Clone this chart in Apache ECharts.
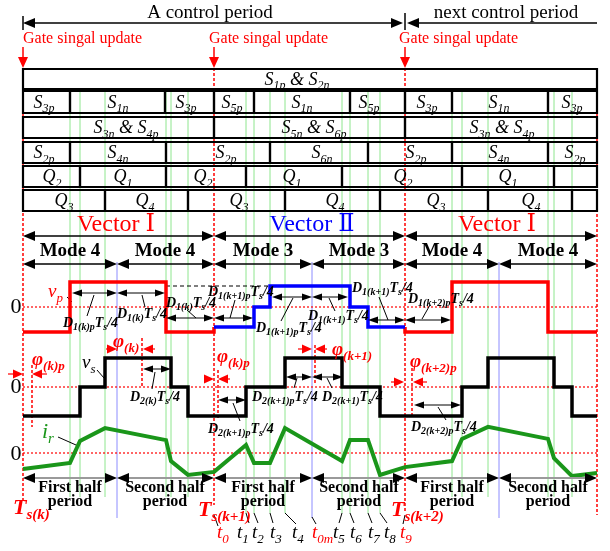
<!DOCTYPE html>
<html>
<head>
<meta charset="utf-8">
<title>Control period timing</title>
<script src="https://cdn.jsdelivr.net/npm/echarts@6/dist/echarts.min.js"></script>
<style>
html,body{margin:0;padding:0;background:#fff;}
#chart{width:610px;height:551px;}
</style>
</head>
<body>
<div id="chart"></div>
<script>
const W = 610, H = 551;
const SERIF = "'Liberation Serif','DejaVu Serif',serif";

// ---------- time instants (diagram time units) ----------
const periodEdges = [23, 214, 405, 597];          // Ts(k), Ts(k+1), Ts(k+2), end
const halfMarks = [117, 312, 499];                // middle of each control period
const switchInstants = [70, 80, 105, 166, 171, 188, 246, 254, 270, 285, 342, 350, 368, 380, 452, 462, 488, 548, 554, 572];
const labelledInstants = [246, 254, 270, 285, 342, 350, 368, 380];

// ---------- gate signal rows: cell edges and names ----------
const row1Edges = [23, 597];
const row1Names = ['S_{1p} & S_{2n}'];
const row1NameAt = [297];
const row2Edges = [23, 70, 165, 214, 254, 350, 405, 452, 548, 597];
const row2Names = ['S_{3p}', 'S_{1n}', 'S_{3p}', 'S_{5p}', 'S_{1n}', 'S_{5p}', 'S_{3p}', 'S_{1n}', 'S_{3p}'];
const row2NameAt = [44, 118, 186, 232, 302, 369, 427, 499, 572];
const row3Edges = [23, 214, 405, 597];
const row3Names = ['S_{3n} & S_{4p}', 'S_{5n} & S_{6p}', 'S_{3n} & S_{4p}'];
const row3NameAt = [126, 314, 502];
const row4Edges = [23, 70, 166, 270, 368, 452, 548, 597];
const row4Names = ['S_{2p}', 'S_{4n}', 'S_{2p}', 'S_{6n}', 'S_{2p}', 'S_{4n}', 'S_{2p}'];
const row4NameAt = [44, 118, 226, 322, 416, 499, 575];
const row5Edges = [23, 80, 166, 246, 342, 462, 554, 597];
const row5Names = ['Q_{2}', 'Q_{1}', 'Q_{2}', 'Q_{1}', 'Q_{2}', 'Q_{1}'];
const row5NameAt = [52, 123, 203, 292, 403, 508];
const row6Edges = [23, 105, 188, 285, 380, 488, 572, 597];
const row6Names = ['Q_{3}', 'Q_{4}', 'Q_{3}', 'Q_{4}', 'Q_{3}', 'Q_{4}'];
const row6NameAt = [64, 145, 239, 335, 436, 531];

// ---------- waveforms: [time, level] ----------
const vpVectorA = [[23, -1], [70, -1], [70, 1], [166, 1], [166, -1], [214, -1], [214, -0.8]];
const vpVectorB = [[214, -0.8], [254, -0.8], [254, 0], [270, 0], [270, 0.84], [350, 0.84], [350, 0], [368, 0], [368, -0.8], [405, -0.8]];
const vpVectorC = [[405, -0.8], [405, -1], [452, -1], [452, 1], [548, 1], [548, -1], [597, -1]];
const vsWave = [[23, -1], [80, -1], [80, 0], [105, 0], [105, 1], [171, 1], [171, 0], [188, 0], [188, -1], [246, -1], [246, 0], [285, 0], [285, 1], [342, 1], [342, 0], [380, 0], [380, -1], [462, -1], [462, 0], [488, 0], [488, 1], [554, 1], [554, 0], [572, 0], [572, -1], [597, -1]];
const irWave = [[23, -0.53], [70, -0.33], [80, 0.4], [105, 0.83], [166, 0.43], [171, -0.27], [188, -0.73], [214, -0.63], [246, 0.27], [254, -0.33], [270, -0.33], [285, 0.83], [342, -0.27], [350, 0.43], [368, 0.43], [380, -0.73], [405, -0.47], [452, -0.27], [462, 0.47], [488, 0.87], [548, 0.47], [554, -0.17], [572, -0.77], [597, -0.67]];

// ---------- text ----------
const modeNames = ['Mode 4', 'Mode 4', 'Mode 3', 'Mode 3', 'Mode 4', 'Mode 4'];
const halfNames = ['First half', 'Second half', 'First half', 'Second half', 'First half', 'Second half'];
const vectorNames = ['Vector Ⅰ', 'Vector Ⅱ', 'Vector Ⅰ'];
const tNames = ['t_{0}', 't_{1}', 't_{2}', 't_{3}', 't_{4}', 't_{0m}', 't_{5}', 't_{6}', 't_{7}', 't_{8}', 't_{9}'];
const tsNames = ['T_{s(k)}', 'T_{s(k+1)}', 'T_{s(k+2)}'];

// ---------- layout ----------
const vpZero = 307, vpUnit = 25;
const vsZero = 387, vsUnit = 29;
const irZero = 453, irUnit = 30;
const rowBands = [[69, 89], [91, 113], [117, 138], [142, 163], [166, 187], [190, 211]];
const halfCenters = [70, 165, 263, 359, 452, 548];

const fonts = {
  title: { size: 19, color: '#000', align: 'center' },
  update: { size: 16, color: '#f00', align: 'left' },
  gate: { size: 18, sub: 12, it: true, color: '#000', align: 'center' },
  vecR: { size: 24, color: '#f00', align: 'center' },
  vecB: { size: 24, color: '#00f', align: 'center' },
  mode: { size: 19, bold: true, color: '#000', align: 'center' },
  half: { size: 16, bold: true, color: '#000', align: 'center' },
  zero: { size: 22, color: '#000', align: 'center' },
  dl: { size: 14, sub: 10, it: true, bold: true, color: '#000', align: 'left' },
  phi: { size: 19, sub: 13, it: true, bold: true, color: '#f00', align: 'left' },
  ts: { size: 22, sub: 15, it: true, bold: true, color: '#f00', align: 'left' },
  t: { size: 19, sub: 13, it: true, color: '#000', align: 'left' },
  tR: { size: 19, sub: 13, it: true, color: '#f00', align: 'left' },
  vp: { size: 19, sub: 13, it: true, color: '#f00', align: 'left' },
  vs: { size: 19, sub: 13, it: true, color: '#000', align: 'left' },
  ir: { size: 22, sub: 15, it: true, color: '#1a961a', align: 'left' }
};

const lineStyles = {
  green: { stroke: '#8ee68e', lineWidth: 1 },
  blue: { stroke: '#8c8cff', lineWidth: 1 },
  redDash: { stroke: '#ff0000', lineWidth: 1.5, lineDash: [3, 2] },
  redDot: { stroke: '#ff0000', lineWidth: 1.2, lineDash: [2, 2] },
  blackDash: { stroke: '#000', lineWidth: 1.2, lineDash: [4, 3] },
  leader: { stroke: '#000', lineWidth: 1 },
  tick: { stroke: '#000', lineWidth: 1.5 }
};
const arrowStyles = {
  big: { stroke: '#000', lineWidth: 1.3, fill: '#000', len: 12, wid: 10 },
  half: { stroke: '#9a9a9a', lineWidth: 2, fill: '#000', len: 12, wid: 10 },
  small: { stroke: '#000', lineWidth: 1, fill: '#000', len: 10, wid: 7 },
  phi: { stroke: '#f00', lineWidth: 1.2, fill: '#f00', len: 10, wid: 9 },
  gate: { stroke: '#f00', lineWidth: 1.5, fill: '#f00', len: 11, wid: 10 }
};

// ---------- build drawing lists ----------
const texts = [];
function addText(t, x, y, f) { texts.push([t, x, y, f]); }

addText('A control period', 210, 13, 'title');
addText('next control period', 506, 13, 'title');
[23, 209, 399].forEach(x => addText('Gate singal update', x, 39, 'update'));

const rowEdges = [row1Edges, row2Edges, row3Edges, row4Edges, row5Edges, row6Edges];
const rowNames = [row1Names, row2Names, row3Names, row4Names, row5Names, row6Names];
const rowNameAt = [row1NameAt, row2NameAt, row3NameAt, row4NameAt, row5NameAt, row6NameAt];
const boxes = [];
rowEdges.forEach((edges, r) => {
  const band = rowBands[r];
  for (let i = 0; i < edges.length - 1; i++) boxes.push([edges[i], band[0], edges[i + 1], band[1]]);
  rowNames[r].forEach((n, i) => addText(n, rowNameAt[r][i], (band[0] + band[1]) / 2 + 1, 'gate'));
});

[116, 312, 497].forEach((x, i) => addText(vectorNames[i], x, 225, i === 1 ? 'vecB' : 'vecR'));
halfCenters.forEach((x, i) => {
  addText(modeNames[i], x, 251, 'mode');
  addText(halfNames[i], x, 488, 'half');
  addText('period', x, 502, 'half');
});
[vpZero, vsZero, irZero + 1].forEach(y => addText('0', 16, y, 'zero'));
addText('v_{p}', 48, 292, 'vp');
addText('v_{s}', 82, 363, 'vs');
addText('i_{r}', 42, 432, 'ir');

[
  ['D_{1(k)p}T_{s}/4', 63, 323], ['D_{1(k)}T_{s}/4', 117, 314], ['D_{1(k)}T_{s}/4', 166, 303],
  ['D_{1(k+1)p}T_{s}/4', 208, 292], ['D_{1(k+1)p}T_{s}/4', 256, 328], ['D_{1(k+1)}T_{s}/4', 308, 316],
  ['D_{1(k+1)}T_{s}/4', 352, 288], ['D_{1(k+2)p}T_{s}/4', 408, 299],
  ['D_{2(k)}T_{s}/4', 130, 397], ['D_{2(k+1)p}T_{s}/4', 208, 429], ['D_{2(k+1)p}T_{s}/4', 252, 397],
  ['D_{2(k+1)}T_{s}/4', 322, 397], ['D_{2(k+2)p}T_{s}/4', 411, 427]
].forEach(d => addText(d[0], d[1], d[2], 'dl'));

[
  ['φ_{(k)p}', 32, 360], ['φ_{(k)}', 113, 342], ['φ_{(k)p}', 217, 357],
  ['φ_{(k+1)}', 332, 350], ['φ_{(k+2)p}', 410, 362]
].forEach(d => addText(d[0], d[1], d[2], 'phi'));

[[13, 508], [198, 510], [391, 510]].forEach((p, i) => addText(tsNames[i], p[0], p[1], 'ts'));
[217, 237, 252, 270, 292, 312, 333, 350, 368, 384, 400].forEach((x, i) =>
  addText(tNames[i], x, 533, (i === 0 || i === 5 || i === 10) ? 'tR' : 't'));

const segments = [];
switchInstants.forEach(t => segments.push([t, 91, t, labelledInstants.includes(t) ? 513 : 497, 'green']));
halfMarks.forEach(t => segments.push([t, 262, t, 518, 'blue']));
[[23, 68, 500], [214, 68, 505], [405, 68, 512], [597, 69, 515]].forEach(s => segments.push([s[0], s[1], s[0], s[2], 'redDash']));
[vpZero, vsZero, irZero].forEach(y => segments.push([periodEdges[0], y, periodEdges[3], y, 'redDot']));
[[32, 365, 427], [142, 338, 388], [218, 370, 420], [315, 345, 385], [412, 368, 415]].forEach(s => segments.push([s[0], s[1], s[0], s[2], 'redDash']));
segments.push([166, 286, 270, 286, 'blackDash']);
segments.push([23, 16, 23, 30, 'tick'], [405, 13, 405, 30, 'tick']);
[
  [67, 297, 72, 302], [97, 370, 104, 378], [58, 437, 76, 445],
  [94, 295, 87, 316], [142, 295, 145, 307], [187, 310, 196, 318], [235, 300, 230, 318], [293, 298, 281, 321],
  [329, 298, 335, 311], [379, 297, 388, 320], [430, 305, 422, 319],
  [155, 372, 152, 389], [233, 403, 240, 421], [297, 378, 294, 388], [327, 378, 332, 388], [438, 407, 446, 420],
  [214, 515, 218, 526], [246, 513, 249, 523], [254, 513, 258, 523], [270, 513, 273, 523], [285, 513, 296, 524],
  [312, 517, 316, 524], [342, 513, 339, 523], [350, 513, 354, 523], [368, 513, 372, 523], [380, 513, 387, 523],
  [405, 515, 403, 524]
].forEach(s => segments.push([s[0], s[1], s[2], s[3], 'leader']));

const arrows = [
  [23, 23, 403, 23, 'big', 'both'], [407, 23, 597, 23, 'big', 'start'],
  [23, 47, 23, 68, 'gate', 'end'], [214, 47, 214, 68, 'gate', 'end'], [405, 47, 405, 68, 'gate', 'end'],
  [23, 236, 214, 236, 'big', 'both'], [214, 236, 405, 236, 'big', 'both'], [405, 236, 597, 236, 'big', 'both']
];
const halfEdges = [23, 117, 214, 312, 405, 499, 597];
for (let i = 0; i < halfEdges.length - 1; i++) {
  arrows.push([halfEdges[i], 264, halfEdges[i + 1], 264, 'big', 'both']);
  arrows.push([halfEdges[i], 478, halfEdges[i + 1], 478, 'half', 'both']);
}
[
  [72, 293, 117, 293], [117, 293, 165, 293], [166, 318, 214, 318], [214, 318, 253, 318],
  [272, 297, 312, 297], [312, 297, 348, 297], [368, 320, 405, 320], [405, 320, 451, 320],
  [143, 369, 171, 369], [218, 400, 246, 400], [286, 377, 312, 377], [312, 377, 343, 377], [414, 405, 461, 405]
].forEach(a => arrows.push([a[0], a[1], a[2], a[3], 'small', 'both']));
[
  [8, 374, 23, 374], [47, 374, 32, 374], [106, 349, 117, 349], [155, 349, 143, 349],
  [205, 379, 214, 379], [230, 379, 218, 379], [298, 349, 312, 349], [327, 349, 315, 349],
  [391, 382, 404, 382], [427, 382, 413, 382]
].forEach(a => arrows.push([a[0], a[1], a[2], a[3], 'phi', 'end']));

// ---------- renderers ----------
const measureCtx = document.createElement('canvas').getContext('2d');
function textWidth(font, s) { measureCtx.font = font; return measureCtx.measureText(s).width; }
function parseMarkup(s) {
  const out = [], re = /_\{([^}]*)\}/g;
  let last = 0, m;
  while ((m = re.exec(s))) {
    if (m.index > last) out.push({ t: s.slice(last, m.index), sub: false });
    out.push({ t: m[1], sub: true });
    last = re.lastIndex;
  }
  if (last < s.length) out.push({ t: s.slice(last), sub: false });
  return out;
}

function renderText(params, api) {
  const s = texts[params.dataIndex];
  const f = fonts[s[3]];
  const p = api.coord([s[1], s[2]]);
  const pre = (f.it ? 'italic ' : '') + (f.bold ? 'bold ' : '');
  const mainFont = pre + f.size + 'px ' + SERIF;
  const subSize = f.sub || f.size;
  const subFont = pre + subSize + 'px ' + SERIF;
  const parts = parseMarkup(s[0]);
  const ws = parts.map(q => textWidth(q.sub ? subFont : mainFont, q.t));
  const total = ws.reduce((a, b) => a + b, 0);
  let x = f.align === 'center' ? p[0] - total / 2 : p[0];
  const dy = 0.56 * f.size - 0.34 * subSize;
  const children = parts.map((q, i) => {
    const el = {
      type: 'text', x: x, y: p[1] + (q.sub ? dy : 0),
      style: { text: q.t, font: q.sub ? subFont : mainFont, fill: f.color, align: 'left', verticalAlign: 'middle' }
    };
    x += ws[i];
    return el;
  });
  return { type: 'group', children };
}

function renderSegment(params, api) {
  const s = segments[params.dataIndex];
  const a = api.coord([s[0], s[1]]), b = api.coord([s[2], s[3]]);
  return { type: 'line', shape: { x1: a[0], y1: a[1], x2: b[0], y2: b[1] }, style: Object.assign({ fill: 'none' }, lineStyles[s[4]]) };
}

function renderBox(params, api) {
  const b = boxes[params.dataIndex];
  const a = api.coord([b[0], b[1]]), c = api.coord([b[2], b[3]]);
  return { type: 'rect', shape: { x: a[0], y: a[1], width: c[0] - a[0], height: c[1] - a[1] }, style: { fill: 'none', stroke: '#000', lineWidth: 2.2 } };
}

function renderArrow(params, api) {
  const s = arrows[params.dataIndex];
  const a = api.coord([s[0], s[1]]), b = api.coord([s[2], s[3]]);
  const st = arrowStyles[s[4]], heads = s[5];
  const dx = b[0] - a[0], dy = b[1] - a[1], L = Math.hypot(dx, dy), ux = dx / L, uy = dy / L;
  const children = [];
  let p = a.slice(), q = b.slice();
  function head(tip, vx, vy) {
    const bx = tip[0] - vx * st.len, by = tip[1] - vy * st.len;
    const nx = -vy * st.wid / 2, ny = vx * st.wid / 2;
    children.push({ type: 'polygon', shape: { points: [[tip[0], tip[1]], [bx + nx, by + ny], [bx - nx, by - ny]] }, style: { fill: st.fill } });
  }
  if (heads === 'both' || heads === 'start') { head(a, -ux, -uy); p = [a[0] + ux * st.len * 0.5, a[1] + uy * st.len * 0.5]; }
  if (heads === 'both' || heads === 'end') { head(b, ux, uy); q = [b[0] - ux * st.len * 0.5, b[1] - uy * st.len * 0.5]; }
  children.unshift({ type: 'line', shape: { x1: p[0], y1: p[1], x2: q[0], y2: q[1] }, style: { fill: 'none', stroke: st.stroke, lineWidth: st.lineWidth } });
  return { type: 'group', children };
}

function levelAxis(zeroY, unit) {
  return { type: 'value', show: false, min: -(H - zeroY) / unit, max: zeroY / unit };
}
function custom(list, render, z) {
  return {
    type: 'custom', coordinateSystem: 'cartesian2d', xAxisIndex: 0, yAxisIndex: 0,
    renderItem: render, data: list.map(d => [d[0], d[1]]), silent: true, z, animation: false
  };
}
function wave(data, yIdx, color, width, z) {
  return {
    type: 'line', xAxisIndex: 0, yAxisIndex: yIdx, data, symbol: 'none', showSymbol: false,
    lineStyle: { color, width, join: 'miter', cap: 'butt' }, silent: true, z, animation: false
  };
}

const chart = echarts.init(document.getElementById('chart'), null, { renderer: 'canvas', width: W, height: H });
chart.setOption({
  animation: false,
  backgroundColor: '#fff',
  grid: { left: 0, right: 0, top: 0, bottom: 0 },
  xAxis: { type: 'value', min: 0, max: W, show: false },
  yAxis: [
    { type: 'value', min: 0, max: H, inverse: true, show: false },
    levelAxis(vpZero, vpUnit),
    levelAxis(vsZero, vsUnit),
    levelAxis(irZero, irUnit)
  ],
  series: [
    custom(segments, renderSegment, 1),
    custom(boxes, renderBox, 2),
    wave(vpVectorA, 1, '#ff0000', 3.5, 3),
    wave(vpVectorC, 1, '#ff0000', 3.5, 3),
    wave(vpVectorB, 1, '#0000ff', 3.5, 4),
    wave(vsWave, 2, '#000000', 3.5, 3),
    wave(irWave, 3, '#1a961a', 4, 3),
    custom(arrows, renderArrow, 5),
    custom(texts, renderText, 6)
  ]
});
</script>
</body>
</html>
